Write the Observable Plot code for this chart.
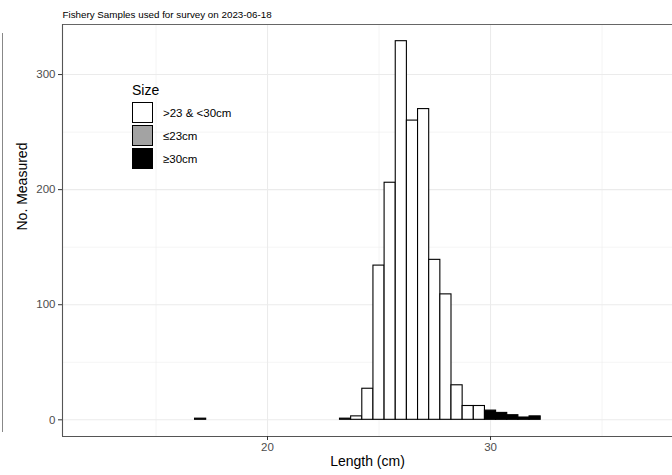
<!DOCTYPE html>
<html>
<head>
<meta charset="utf-8">
<script src="https://cdn.jsdelivr.net/npm/d3@7"></script>
<script src="https://cdn.jsdelivr.net/npm/@observablehq/plot@0.6"></script>
<style>
  html, body { margin: 0; padding: 0; background: white; }
  #wrap { position: relative; width: 672px; height: 475px; overflow: hidden; font-family: "Liberation Sans", Arial, sans-serif; }
  #legend { position: absolute; left: 132px; top: 81px; }
  #legend .ttl { font-size: 14px; color: #000; height: 20px; line-height: 18px; }
  #legend .row { display: flex; align-items: center; height: 23px; }
  #legend .key { width: 19px; height: 19px; border: 1px solid #000; box-sizing: content-box; }
  #legend .lab { font-size: 11.5px; color: #000; margin-left: 10px; }
  #stray { position: absolute; left: 2px; top: 33px; height: 399px; border-left: 1px solid #888; }
</style>
</head>
<body>
<div id="wrap">
  <div id="stray"></div>
  <div id="legend"></div>
</div>
<script>
const titleText = "Fishery Samples used for survey on 2023-06-18";
const xLabel = "Length (cm)";
const yLabel = "No. Measured";
const legendTitle = "Size";
const lengths = [17, 23.5, 24, 24.5, 25, 25.5, 26, 26.5, 27, 27.5, 28, 28.5, 29, 29.5, 30, 30.5, 31, 31.5, 32];
const counts  = [1,  1,    3,  27,   134, 206,  329, 260,  270, 139,  109, 30,   12, 12,   8,  6,    4,  2,    3];
const sizeClasses = [">23 & <30cm", "≤23cm", "≥30cm"];
const sizeFills = ["#ffffff", "#a3a3a3", "#000000"];
const binWidth = 0.5;
const xTicks = [20, 30];
const xMinor = [15, 25, 35];
const yTicks = [0, 100, 200, 300];
const yMinor = [50, 150, 250];

const classify = L => L <= 23 ? sizeClasses[1] : (L >= 30 ? sizeClasses[2] : sizeClasses[0]);
const data = lengths.map((L, i) => ({x1: L - binWidth / 2, x2: L + binWidth / 2, n: counts[i], size: classify(L)}));

const xDom = [10.807, 38.16];
const yDom = [-14.5, 343.5];

const chart = Plot.plot({
  width: 672, height: 475,
  marginLeft: 62, marginRight: 0, marginTop: 24, marginBottom: 39,
  style: {fontFamily: "'Liberation Sans', Arial, sans-serif", background: "white", overflow: "visible", color: "#4d4d4d"},
  x: {domain: xDom},
  y: {domain: yDom},
  color: {type: "ordinal", domain: sizeClasses, range: sizeFills},
  marks: [
    Plot.ruleX(xMinor, {stroke: "#ebebeb", strokeWidth: 0.55}),
    Plot.ruleY(yMinor, {stroke: "#ebebeb", strokeWidth: 0.55}),
    Plot.ruleX(xTicks, {stroke: "#ebebeb", strokeWidth: 1.1}),
    Plot.ruleY(yTicks, {stroke: "#ebebeb", strokeWidth: 1.1}),
    Plot.rectY(data, {x1: "x1", x2: "x2", y1: 0, y2: "n", fill: "size", stroke: "#000", strokeWidth: 1.1}),
    Plot.ruleY([yDom[1]], {stroke: "#666", strokeWidth: 1.1}),
    Plot.ruleY([yDom[0]], {stroke: "#555", strokeWidth: 1.1}),
    Plot.ruleX([xDom[0]], {stroke: "#555", strokeWidth: 1.1}),
    Plot.axisX({ticks: xTicks, tickSize: 4, tickPadding: 2, stroke: "#333", fill: "#4d4d4d", fontSize: 11.5, label: null}),
    Plot.axisY({ticks: yTicks, tickSize: 4, tickPadding: 3, stroke: "#333", fill: "#4d4d4d", fontSize: 11.5, label: null}),
    Plot.text([xLabel], {text: d => d, frameAnchor: "bottom", dy: 29, fontSize: 14, fill: "#000"}),
    Plot.text([yLabel], {text: d => d, frameAnchor: "left", dx: -40, rotate: -90, fontSize: 14, fill: "#000"}),
    Plot.text([titleText], {text: d => d, frameAnchor: "top-left", textAnchor: "start", dy: -13, fontSize: 9.8, fill: "#000"})
  ]
});
const wrap = document.getElementById("wrap");
wrap.insertBefore(chart, wrap.firstChild);

const legend = document.getElementById("legend");
const t = document.createElement("div");
t.className = "ttl"; t.textContent = legendTitle;
legend.appendChild(t);
sizeClasses.forEach((c, i) => {
  const row = document.createElement("div"); row.className = "row";
  const k = document.createElement("div"); k.className = "key"; k.style.background = sizeFills[i];
  const l = document.createElement("div"); l.className = "lab"; l.textContent = c;
  row.appendChild(k); row.appendChild(l);
  legend.appendChild(row);
});
</script>
</body>
</html>
